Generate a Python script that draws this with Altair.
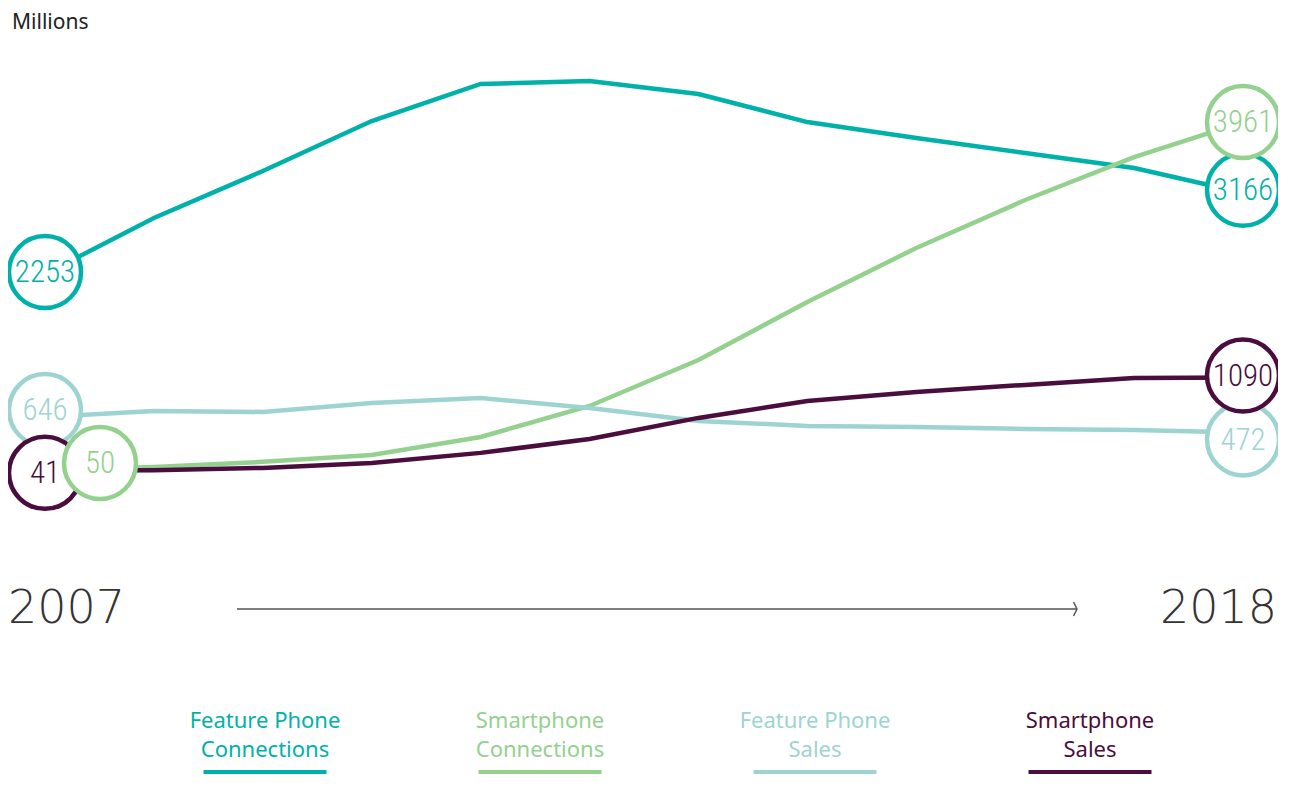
import altair as alt
import pandas as pd

# ---------------- data ----------------
years = list(range(2007, 2019))
series_names = ["Feature Phone Connections", "Smartphone Connections",
                "Feature Phone Sales", "Smartphone Sales"]
legend_line1 = ["Feature Phone", "Smartphone", "Feature Phone", "Smartphone"]
legend_line2 = ["Connections", "Connections", "Sales", "Sales"]
colors = ["#00b1aa", "#94d18f", "#9dd4d2", "#4a0d3d"]

fp_conn = [2253, 2883, 3411, 3973, 4389, 4422, 4276, 3961, 3782, 3613, 3444, 3166]
sp_conn = [50, 85, 142, 220, 422, 770, 1287, 1939, 2546, 3085, 3568, 3961]
fp_sales = [646, 714, 703, 804, 860, 748, 602, 546, 535, 512, 501, 472]
sp_sales = [41, 47, 74, 130, 243, 400, 636, 827, 928, 1007, 1085, 1090]
values = {
    "Feature Phone Connections": fp_conn,
    "Smartphone Connections": sp_conn,
    "Feature Phone Sales": fp_sales,
    "Smartphone Sales": sp_sales,
}

# label circle nudges (style only, px): (start dx, start dy, end dx, end dy)
nudges = {
    "Feature Phone Connections": (0, -2, 0, -3),
    "Smartphone Connections": (55, -7, 0, 0),
    "Feature Phone Sales": (0, -7, 0, 7),
    "Smartphone Sales": (0, 2, 0, -2),
}
draw_order = ["Feature Phone Sales", "Feature Phone Connections",
              "Smartphone Sales", "Smartphone Connections"]

W, H = 1270, 766
x_scale = alt.Scale(domain=[2006.6603, 2018.3214], nice=False, zero=False)
y_scale = alt.Scale(domain=[-3366, 5243], nice=False, zero=False)
color_scale = alt.Scale(domain=series_names, range=colors)

rows = []
for s in series_names:
    for yr, v in zip(years, values[s]):
        rows.append({"series": s, "year": yr, "value": v})
df = pd.DataFrame(rows)

lines = alt.Chart(df).mark_line(strokeWidth=4.5).encode(
    x=alt.X("year:Q", scale=x_scale, axis=None),
    y=alt.Y("value:Q", scale=y_scale, axis=None),
    color=alt.Color("series:N", scale=color_scale, legend=None),
    detail="series:N",
)

layers = [lines]
label_font = "Roboto Condensed, Liberation Sans Narrow, Roboto, sans-serif"
for s in draw_order:
    c = colors[series_names.index(s)]
    vals = values[s]
    n = nudges[s]
    for (yr, v, dx, dy) in [(years[0], vals[0], n[0], n[1]), (years[-1], vals[-1], n[2], n[3])]:
        pt = pd.DataFrame({"year": [yr], "value": [v], "label": [str(v)]})
        base = alt.Chart(pt).encode(
            x=alt.X("year:Q", scale=x_scale, axis=None),
            y=alt.Y("value:Q", scale=y_scale, axis=None),
        )
        layers.append(base.mark_point(shape="circle", filled=True, fill="white",
                                      stroke=c, strokeWidth=4.5, size=5184,
                                      opacity=1, fillOpacity=1,
                                      xOffset=dx, yOffset=dy))
        layers.append(base.mark_text(font=label_font, fontSize=31, fontWeight=300, color=c,
                                     align="center", baseline="middle",
                                     xOffset=dx, yOffset=dy + 1).encode(text="label:N"))

# title text
layers.append(alt.Chart(pd.DataFrame({"t": ["Millions"]})).mark_text(
    font="Noto Sans", fontSize=21, color="#222", align="left", baseline="alphabetic"
).encode(x=alt.value(4), y=alt.value(21), text="t:N"))

# timeline
layers.append(alt.Chart(pd.DataFrame({"t": ["2007"]})).mark_text(
    font="DejaVu Sans", fontWeight=200, fontSize=46, color="#333", align="left",
    baseline="alphabetic").encode(x=alt.value(0), y=alt.value(615), text="t:N"))
layers.append(alt.Chart(pd.DataFrame({"t": ["2018"]})).mark_text(
    font="DejaVu Sans", fontWeight=200, fontSize=46, color="#333", align="right",
    baseline="alphabetic").encode(x=alt.value(1269), y=alt.value(615), text="t:N"))
layers.append(alt.Chart(pd.DataFrame({"a": [0]})).mark_rule(
    color="#555", strokeWidth=1.5).encode(x=alt.value(229), x2=alt.value(1069), y=alt.value(601)))
layers.append(alt.Chart(pd.DataFrame({"a": [0]})).mark_point(
    shape="M-0.5,-1L0,0L-0.5,1", size=196, filled=False, stroke="#555",
    strokeWidth=1.5, opacity=1).encode(x=alt.value(1069), y=alt.value(601)))

# legend
leg = pd.DataFrame({"series": series_names, "l1": legend_line1, "l2": legend_line2})
leg_x = alt.X("series:N", sort=series_names,
              scale=alt.Scale(type="point", domain=series_names, range=[257, 1082], padding=0),
              axis=None)
leg_color = alt.Color("series:N", scale=color_scale, legend=None)
leg_base = alt.Chart(leg).encode(x=leg_x, color=leg_color)
layers.append(leg_base.mark_text(font="Noto Sans", fontSize=22, baseline="alphabetic",
                                 align="center").encode(y=alt.value(720), text="l1:N"))
layers.append(leg_base.mark_text(font="Noto Sans", fontSize=22, baseline="alphabetic",
                                 align="center").encode(y=alt.value(749), text="l2:N"))
layers.append(leg_base.mark_point(shape="M-1,-0.065L1,-0.065L1,0.065L-1,0.065Z",
                                  size=15129, filled=True, opacity=1).encode(y=alt.value(766)))

chart = alt.layer(*layers).resolve_scale(x="independent").properties(
    width=W, height=H, padding=0,
    autosize=alt.AutoSizeParams(type="none"),
    background="white",
).configure_view(stroke=None)

chart.save("out.html", embed_options={"renderer": "svg", "actions": False})
